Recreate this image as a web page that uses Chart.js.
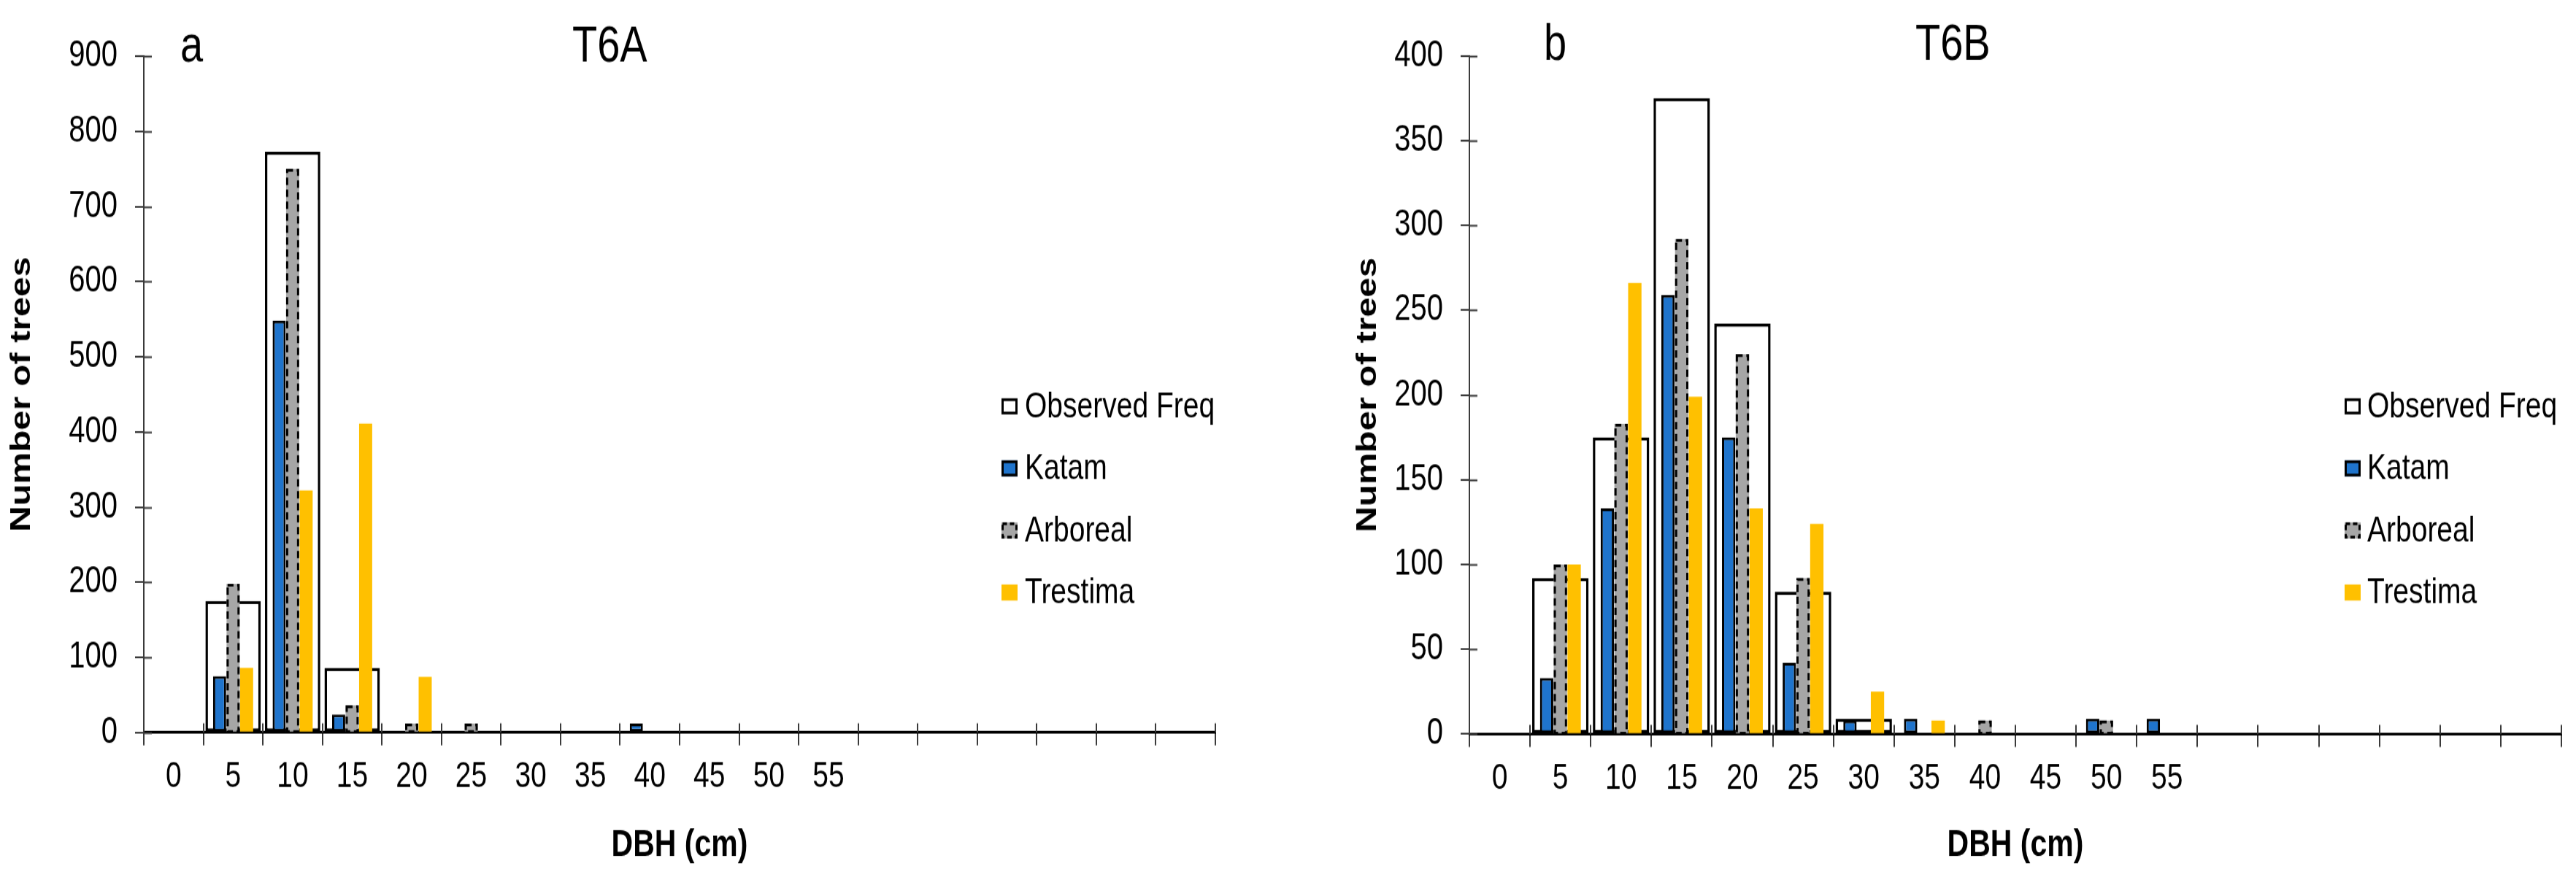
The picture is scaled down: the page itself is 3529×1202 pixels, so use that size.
<!DOCTYPE html>
<html>
<head>
<meta charset="utf-8">
<title>DBH distributions T6A / T6B</title>
<script src="https://cdn.jsdelivr.net/npm/chart.js@4.4.1/dist/chart.umd.min.js"></script>
<style>
  html, body { margin: 0; padding: 0; background: #fff; }
  #wrap { position: relative; width: 3529px; height: 1202px; background: #fff; }
  /* the source figure is stretched vertically; draw at 954px and stretch to 1202px */
  .panel { position: absolute; top: 0; height: 954px; transform: scaleY(1.26); transform-origin: 0 0; }
  #panelA { left: 0; width: 1764px; }
  #panelB { left: 1764px; width: 1765px; }
</style>
</head>
<body>
<div id="wrap">
  <div class="panel" id="panelA"><canvas id="chartA"></canvas></div>
  <div class="panel" id="panelB"><canvas id="chartB"></canvas></div>
</div>
<script>
/* ---------- data ---------- */
// DBH classes (cm); the last six classes carry no label
const dbhLabels = ['0', '5', '10', '15', '20', '25', '30', '35', '40', '45', '50', '55', '', '', '', '', '', ''];
const seriesNames = ['Observed Freq', 'Katam', 'Arboreal', 'Trestima'];

// a - T6A
const observedA = [0, 175, 773, 86, 0, 0, 0, 0, 0, 0, 0, 0, 0, 0, 0, 0, 0, 0];
const katamA    = [0, 75, 548, 24, 0, 0, 0, 0, 12, 0, 0, 0, 0, 0, 0, 0, 0, 0];
const arborealA = [0, 198, 750, 36, 12, 12, 0, 0, 0, 0, 0, 0, 0, 0, 0, 0, 0, 0];
const trestimaA = [0, 86, 322, 411, 74, 0, 0, 0, 0, 0, 0, 0, 0, 0, 0, 0, 0, 0];
const yTicksA   = [0, 100, 200, 300, 400, 500, 600, 700, 800, 900];

// b - T6B
const observedB = [0, 92, 175, 375, 242, 84, 9, 0, 0, 0, 0, 0, 0, 0, 0, 0, 0, 0];
const katamB    = [0, 33, 133, 259, 175, 42, 8, 9, 0, 0, 9, 9, 0, 0, 0, 0, 0, 0];
const arborealB = [0, 100, 183, 292, 224, 92, 0, 0, 8, 0, 8, 0, 0, 0, 0, 0, 0, 0];
const trestimaB = [0, 100, 266, 199, 133, 124, 25, 8, 0, 0, 0, 0, 0, 0, 0, 0, 0, 0];
const yTicksB   = [0, 50, 100, 150, 200, 250, 300, 350, 400];

/* ---------- styling ---------- */
const COLORS = {
  observed: '#ffffff',
  katam: '#1f74cc',
  arboreal: '#a6a6a6',
  trestima: '#ffc000',
  edge: '#000000',
  axis: '#3a3a3a'
};
const FONT = "'Liberation Sans', Arial, sans-serif";
const CANVAS_H = 954;

// dashed outlines, crossing tick halves, panel titles and the legend
const panelDecor = {
  id: 'panelDecor',
  afterDatasetDraw(chart, args) {
    const ds = chart.data.datasets[args.index];
    if (!ds.dashedBorder) return;
    const ctx = chart.ctx;
    ctx.save();
    ctx.strokeStyle = COLORS.edge;
    ctx.lineWidth = 3;
    ctx.setLineDash([8, 5]);
    args.meta.data.forEach((bar, i) => {
      if (!ds.data[i]) return;
      const { x, y, base, width } = bar.getProps(['x', 'y', 'base', 'width'], true);
      ctx.strokeRect(x - width / 2 + 1.5, y + 1.5, width - 3, base - y - 1.5);
    });
    ctx.restore();
  },
  afterDraw(chart, args, opts) {
    const ctx = chart.ctx;
    const area = chart.chartArea;
    const xs = chart.scales.x;
    const ys = chart.scales.y;
    ctx.save();

    // inner halves of the crossing tick marks
    ctx.strokeStyle = COLORS.axis;
    ctx.lineWidth = 2;
    ctx.beginPath();
    ys.ticks.forEach(t => {
      const py = Math.round(ys.getPixelForValue(t.value)) + 0.5;
      ctx.moveTo(area.left, py);
      ctx.lineTo(area.left + 11, py);
    });
    for (let i = 1; i <= dbhLabels.length; i++) {
      const px = Math.round(xs.getPixelForValue(i - 0.5));
      ctx.moveTo(px, area.bottom);
      ctx.lineTo(px, area.bottom - 10);
    }
    ctx.stroke();

    // panel letter and plot name
    ctx.fillStyle = '#000';
    ctx.textBaseline = 'alphabetic';
    ctx.textAlign = 'left';
    ctx.font = '56px ' + FONT;
    ctx.fillText(opts.letter, opts.letterX, opts.titleY);
    ctx.fillText(opts.name, opts.nameX, opts.titleY);

    // legend
    ctx.font = '39px ' + FONT;
    ctx.textBaseline = 'middle';
    chart.data.datasets.forEach((ds, k) => {
      const cy = opts.legendY + k * opts.legendGap;
      const bx = opts.legendX;
      const w = 22, h = 17.5;
      ctx.setLineDash([]);
      ctx.fillStyle = ds.backgroundColor;
      ctx.fillRect(bx, cy - h / 2, w, h);
      if (ds.borderWidth || ds.dashedBorder) {
        ctx.strokeStyle = COLORS.edge;
        ctx.lineWidth = 3;
        if (ds.dashedBorder) ctx.setLineDash([6, 4]);
        ctx.strokeRect(bx + 1.5, cy - h / 2 + 1.5, w - 3, h - 3);
        ctx.setLineDash([]);
      }
      ctx.fillStyle = '#000';
      ctx.fillText(ds.label, bx + opts.textGap, cy + 1);
    });
    ctx.restore();
  }
};

function makePanel(canvasId, p) {
  const canvas = document.getElementById(canvasId);
  canvas.width = p.width;
  canvas.height = CANVAS_H;

  return new Chart(canvas, {
    type: 'bar',
    data: {
      labels: dbhLabels,
      datasets: [
        {
          label: seriesNames[0], data: p.observed, grouped: false, order: 2,
          backgroundColor: COLORS.observed, borderColor: COLORS.edge, borderWidth: 3.5,
          borderSkipped: false, categoryPercentage: 0.93, barPercentage: 1
        },
        {
          label: seriesNames[1], data: p.katam, order: 1,
          backgroundColor: COLORS.katam, borderColor: COLORS.edge, borderWidth: 3,
          borderSkipped: false, categoryPercentage: 0.68, barPercentage: 0.97
        },
        {
          label: seriesNames[2], data: p.arboreal, order: 1, dashedBorder: true,
          backgroundColor: COLORS.arboreal, borderWidth: 0,
          categoryPercentage: 0.68, barPercentage: 0.97
        },
        {
          label: seriesNames[3], data: p.trestima, order: 1,
          backgroundColor: COLORS.trestima, borderWidth: 0,
          categoryPercentage: 0.68, barPercentage: 0.97
        }
      ]
    },
    options: {
      responsive: false,
      animation: false,
      devicePixelRatio: 1,
      layout: { padding: { left: 0, top: p.top, right: p.right, bottom: 0 } },
      plugins: {
        legend: { display: false },
        tooltip: { enabled: false },
        panelDecor: p.decor
      },
      scales: {
        x: {
          type: 'category',
          offset: true,
          z: 1,
          border: { display: true, color: '#000', width: 3 },
          grid: { offset: true, drawOnChartArea: false, drawTicks: true, tickLength: 14, color: COLORS.axis, lineWidth: 2 },
          ticks: { autoSkip: false, maxRotation: 0, padding: 11, color: '#000', font: { family: FONT, size: 39 } },
          title: { display: true, text: 'DBH (cm)', color: '#000', font: { family: FONT, size: 41, weight: 'bold' }, padding: { top: 0, bottom: 10 } },
          afterFit: s => { s.height = p.xHeight; }
        },
        y: {
          min: 0,
          max: p.yTicks[p.yTicks.length - 1],
          afterBuildTicks: s => { s.ticks = p.yTicks.map(v => ({ value: v })); },
          border: { display: true, color: COLORS.axis, width: 2 },
          grid: { drawOnChartArea: false, drawTicks: true, tickLength: 12, color: COLORS.axis, lineWidth: 2 },
          ticks: { padding: 24, color: '#000', font: { family: FONT, size: 40 } },
          title: { display: true, text: 'Number of trees', color: '#000', font: { family: FONT, size: 39, weight: 'bold' }, padding: { top: p.yTitlePad, bottom: 0 } },
          afterFit: s => { s.width = p.yWidth; }
        }
      }
    },
    plugins: [panelDecor]
  });
}

makePanel('chartA', {
  width: 1764, top: 61.1, right: 99, xHeight: 157.2, yWidth: 197, yTitlePad: 7,
  observed: observedA, katam: katamA, arboreal: arborealA, trestima: trestimaA, yTicks: yTicksA,
  decor: { letter: 'a', name: 'T6A', letterX: 247, nameX: 784, titleY: 66.7,
           legendX: 1372, textGap: 32, legendY: 442, legendGap: 67.5 }
});

makePanel('chartB', {
  width: 1765, top: 60.7, right: 20, xHeight: 155.6, yWidth: 249, yTitlePad: 87,
  observed: observedB, katam: katamB, arboreal: arborealB, trestima: trestimaB, yTicks: yTicksB,
  decor: { letter: 'b', name: 'T6B', letterX: 351, nameX: 860, titleY: 65,
           legendX: 1448, textGap: 31, legendY: 442, legendGap: 67.5 }
});
</script>
</body>
</html>
